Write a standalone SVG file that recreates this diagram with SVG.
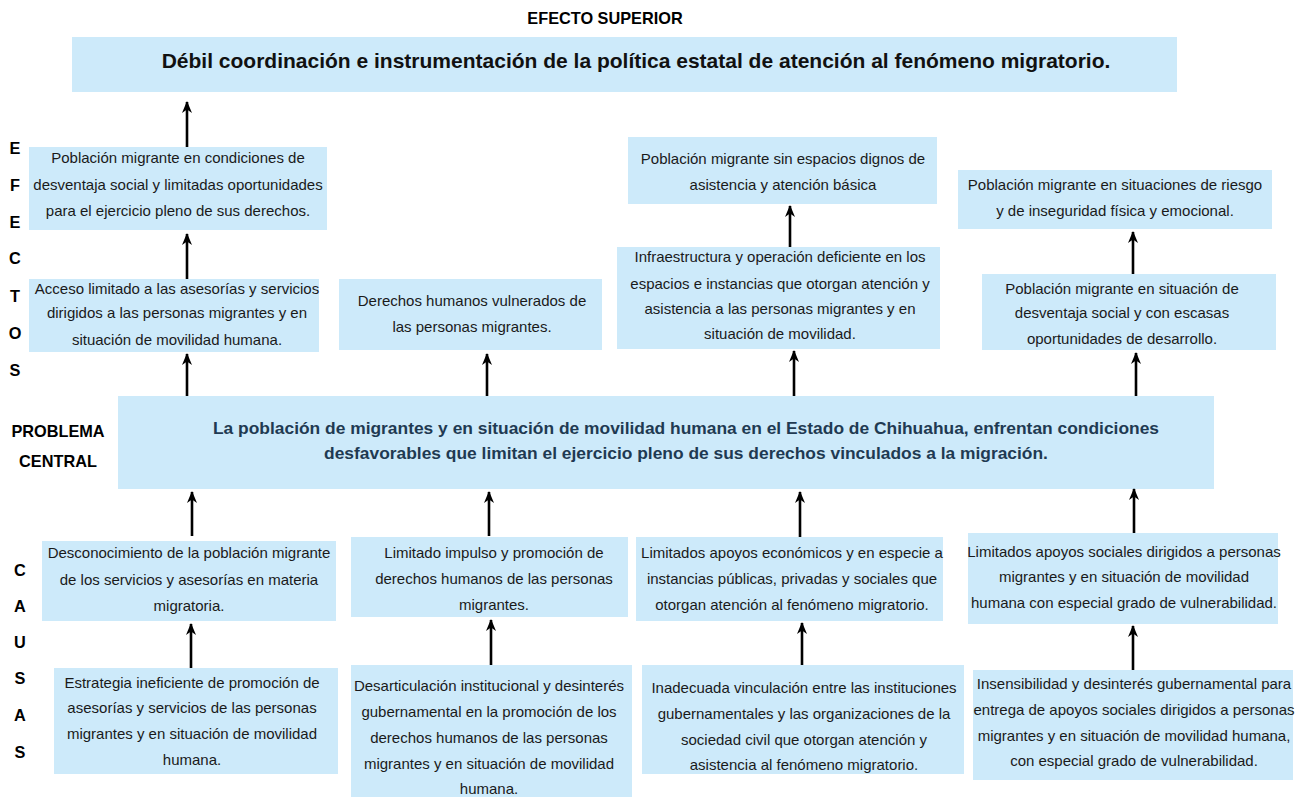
<svg xmlns="http://www.w3.org/2000/svg" width="1308" height="797" viewBox="0 0 1308 797">
<defs>
<marker id="ah" viewBox="0 0 12 10" refX="11" refY="5" markerWidth="12" markerHeight="10" markerUnits="userSpaceOnUse" orient="auto">
<path d="M12,5 L0,0 L3.5,5 L0,10 Z" fill="#000"/>
</marker>
<style>
.box{fill:#cdeafa;}
.t{font-family:"Liberation Sans",Arial,sans-serif;font-size:15px;fill:#1a1a1a;text-anchor:middle;}
.h{font-family:"Liberation Sans",Arial,sans-serif;font-weight:bold;fill:#111;text-anchor:middle;}
.c{font-family:"Liberation Sans",Arial,sans-serif;font-weight:bold;font-size:17.4px;fill:#1f3a52;text-anchor:middle;}
.lbl{font-family:"Liberation Sans",Arial,sans-serif;font-weight:bold;font-size:16.3px;fill:#000;text-anchor:middle;}
.ar{stroke:#000;stroke-width:2.6;fill:none;marker-end:url(#ah);}
</style>
</defs>
<rect width="1308" height="797" fill="#fff"/>

<g id="labels">
<text class="lbl" x="605" y="24" font-size="17">EFECTO SUPERIOR</text>
<text class="lbl" x="15" y="154">E</text>
<text class="lbl" x="15" y="191">F</text>
<text class="lbl" x="15" y="228">E</text>
<text class="lbl" x="15" y="264">C</text>
<text class="lbl" x="15" y="302">T</text>
<text class="lbl" x="15" y="339">O</text>
<text class="lbl" x="15" y="376">S</text>
<text class="lbl" x="58" y="437">PROBLEMA</text>
<text class="lbl" x="58" y="467">CENTRAL</text>
<text class="lbl" x="20" y="576">C</text>
<text class="lbl" x="20" y="612">A</text>
<text class="lbl" x="20" y="648">U</text>
<text class="lbl" x="20" y="684">S</text>
<text class="lbl" x="20" y="721">A</text>
<text class="lbl" x="20" y="758">S</text>
</g>

<g id="top">
<rect class="box" x="72" y="37" width="1105" height="55"/>
<text class="h" x="636" y="68" font-size="21">Débil coordinación e instrumentación de la política estatal de atención al fenómeno migratorio.</text>
</g>

<g id="e1">
<rect class="box" x="29" y="147" width="298" height="83"/>
<text class="t" x="178" y="163">Población migrante en condiciones de</text>
<text class="t" x="178" y="190">desventaja social y limitadas oportunidades</text>
<text class="t" x="178" y="216">para el ejercicio pleno de sus derechos.</text>
</g>
<g id="e2">
<rect class="box" x="29" y="279" width="290" height="73"/>
<text class="t" x="177" y="294">Acceso limitado a las asesorías y servicios</text>
<text class="t" x="177" y="318">dirigidos a las personas migrantes y en</text>
<text class="t" x="177" y="345">situación de movilidad humana.</text>
</g>
<g id="e3">
<rect class="box" x="339" y="279" width="263" height="71"/>
<text class="t" x="472" y="306">Derechos humanos vulnerados de</text>
<text class="t" x="472" y="332">las personas migrantes.</text>
</g>
<g id="e4">
<rect class="box" x="628" y="137" width="309" height="67"/>
<text class="t" x="783" y="164">Población migrante sin espacios dignos de</text>
<text class="t" x="783" y="190">asistencia y atención básica</text>
</g>
<g id="e5">
<rect class="box" x="617" y="247" width="323" height="102"/>
<text class="t" x="780" y="262">Infraestructura y operación deficiente en los</text>
<text class="t" x="780" y="289">espacios e instancias que otorgan atención y</text>
<text class="t" x="780" y="314">asistencia a las personas migrantes y en</text>
<text class="t" x="780" y="339">situación de movilidad.</text>
</g>
<g id="e6">
<rect class="box" x="958" y="170" width="314" height="59"/>
<text class="t" x="1115" y="190">Población migrante en situaciones de riesgo</text>
<text class="t" x="1115" y="216">y de inseguridad física y emocional.</text>
</g>
<g id="e7">
<rect class="box" x="982" y="274" width="294" height="76"/>
<text class="t" x="1122" y="294">Población migrante en situación de</text>
<text class="t" x="1122" y="318">desventaja social y con escasas</text>
<text class="t" x="1122" y="344">oportunidades de desarrollo.</text>
</g>

<g id="central">
<rect class="box" x="118" y="396" width="1096" height="93"/>
<text class="c" x="686" y="434">La población de migrantes y en situación de movilidad humana en el Estado de Chihuahua, enfrentan condiciones</text>
<text class="c" x="686" y="459">desfavorables que limitan el ejercicio pleno de sus derechos vinculados a la migración.</text>
</g>

<g id="c1">
<rect class="box" x="42" y="541" width="294" height="80"/>
<text class="t" x="189" y="558">Desconocimiento de la población migrante</text>
<text class="t" x="189" y="585">de los servicios y asesorías en materia</text>
<text class="t" x="189" y="611">migratoria.</text>
</g>
<g id="c2">
<rect class="box" x="351" y="537" width="277" height="80"/>
<text class="t" x="494" y="558">Limitado impulso y promoción de</text>
<text class="t" x="494" y="584">derechos humanos de las personas</text>
<text class="t" x="494" y="610">migrantes.</text>
</g>
<g id="c3">
<rect class="box" x="636" y="537" width="307" height="84"/>
<text class="t" x="792" y="558">Limitados apoyos económicos y en especie a</text>
<text class="t" x="792" y="584">instancias públicas, privadas y sociales que</text>
<text class="t" x="792" y="610">otorgan atención al fenómeno migratorio.</text>
</g>
<g id="c4">
<rect class="box" x="968" y="533" width="310" height="91"/>
<text class="t" x="1124" y="557">Limitados apoyos sociales dirigidos a personas</text>
<text class="t" x="1124" y="582">migrantes y en situación de movilidad</text>
<text class="t" x="1124" y="608">humana con especial grado de vulnerabilidad.</text>
</g>

<g id="c5">
<rect class="box" x="54" y="668" width="284" height="106"/>
<text class="t" x="192" y="688">Estrategia ineficiente de promoción de</text>
<text class="t" x="192" y="713">asesorías y servicios de las personas</text>
<text class="t" x="192" y="739">migrantes y en situación de movilidad</text>
<text class="t" x="192" y="765">humana.</text>
</g>
<g id="c6">
<rect class="box" x="351" y="665" width="281" height="132"/>
<text class="t" x="489" y="691">Desarticulación institucional y desinterés</text>
<text class="t" x="489" y="717">gubernamental en la promoción de los</text>
<text class="t" x="489" y="743">derechos humanos de las personas</text>
<text class="t" x="489" y="769">migrantes y en situación de movilidad</text>
<text class="t" x="489" y="794">humana.</text>
</g>
<g id="c7">
<rect class="box" x="642" y="665" width="322" height="109"/>
<text class="t" x="804" y="693">Inadecuada vinculación entre las instituciones</text>
<text class="t" x="804" y="719">gubernamentales y las organizaciones de la</text>
<text class="t" x="804" y="745">sociedad civil que otorgan atención y</text>
<text class="t" x="804" y="770">asistencia al fenómeno migratorio.</text>
</g>
<g id="c8">
<rect class="box" x="973" y="670" width="320" height="110"/>
<text class="t" x="1134" y="689">Insensibilidad y desinterés gubernamental para</text>
<text class="t" x="1134" y="715">entrega de apoyos sociales dirigidos a personas</text>
<text class="t" x="1134" y="741">migrantes y en situación de movilidad humana,</text>
<text class="t" x="1134" y="766">con especial grado de vulnerabilidad.</text>
</g>

<g id="connectors">
<line class="ar" x1="187" y1="147" x2="187" y2="102"/>
<line class="ar" x1="187" y1="279" x2="187" y2="234"/>
<line class="ar" x1="187" y1="396" x2="187" y2="354"/>
<line class="ar" x1="487" y1="396" x2="487" y2="354"/>
<line class="ar" x1="794" y1="396" x2="794" y2="351"/>
<line class="ar" x1="790" y1="247" x2="790" y2="206"/>
<line class="ar" x1="1136" y1="396" x2="1136" y2="353"/>
<line class="ar" x1="1133" y1="274" x2="1133" y2="232"/>
<line class="ar" x1="192" y1="536" x2="192" y2="492"/>
<line class="ar" x1="489" y1="536" x2="489" y2="492"/>
<line class="ar" x1="800" y1="537" x2="800" y2="492"/>
<line class="ar" x1="1134" y1="533" x2="1134" y2="489"/>
<line class="ar" x1="191" y1="668" x2="191" y2="624"/>
<line class="ar" x1="491" y1="665" x2="491" y2="620"/>
<line class="ar" x1="802" y1="665" x2="802" y2="623"/>
<line class="ar" x1="1133" y1="670" x2="1133" y2="626"/>
</g>
</svg>
